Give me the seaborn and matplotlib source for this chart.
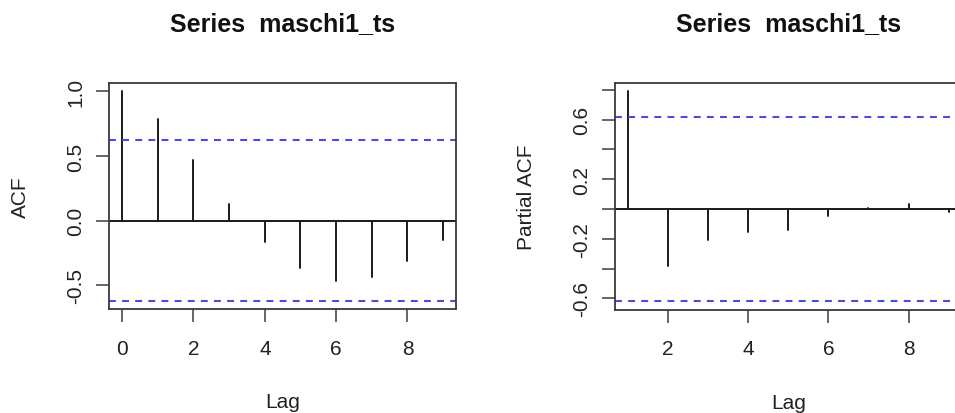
import numpy as np
import pandas as pd
import matplotlib
matplotlib.use("Agg")
import matplotlib.pyplot as plt
import seaborn as sns

# ---- data ----
title_text = "Series  maschi1_ts"
acf_lags = [0, 1, 2, 3, 4, 5, 6, 7, 8, 9]
acf_vals = [1.0, 0.788, 0.466, 0.131, -0.165, -0.371, -0.466, -0.435, -0.311, -0.147]
pacf_lags = [1, 2, 3, 4, 5, 6, 7, 8, 9]
pacf_vals = [0.789, -0.382, -0.211, -0.156, -0.138, -0.044, 0.005, 0.033, -0.018]
n_obs = 10
conf = 1.96 / np.sqrt(n_obs)

acf_xticks = [0, 2, 4, 6, 8]
acf_yticks = [-0.5, 0.0, 0.5, 1.0]
acf_yticklabels = ["-0.5", "0.0", "0.5", "1.0"]
pacf_xticks = [2, 4, 6, 8]
pacf_yticks = [-0.6, -0.4, -0.2, 0.0, 0.2, 0.4, 0.6, 0.8]
pacf_yticklabels = ["-0.6", "", "-0.2", "", "0.2", "", "0.6", ""]

sns.set_theme(style="white")
plt.rcParams['font.family'] = ['Liberation Sans', 'DejaVu Sans']

W, H = 955, 414
fig = plt.figure(figsize=(W / 100, H / 100), dpi=100)

def px_axes(x0, x1, y0, y1):
    return fig.add_axes([x0 / W, 1 - y1 / H, (x1 - x0) / W, (y1 - y0) / H])

ax1 = px_axes(109.3, 456.0, 84.0, 310.0)
ax2 = px_axes(615.0, 961.5, 84.0, 310.7)

def spikes_df(lags, vals):
    rows = []
    for l, v in zip(lags, vals):
        rows.append({"lag": l, "val": 0.0, "id": l})
        rows.append({"lag": l, "val": v, "id": l})
    return pd.DataFrame(rows)

blue = "#4a4ae6"
line_col = "#1a1a1a"
frame_col = "#3a3a3a"

def style_panel(ax, lags, vals, xlim, ylim, xticks, yticks, yticklabels, ylabel, ylab_x):
    df = spikes_df(lags, vals)
    sns.lineplot(data=df, x="lag", y="val", units="id", estimator=None,
                 color=line_col, lw=1.4, ax=ax, legend=False, sort=False)
    ax.axhline(0, color=line_col, lw=1.4, zorder=1)
    for c in (conf, -conf):
        ax.axhline(c, color=blue, lw=1.5, linestyle=(0, (3.3, 3.0)), zorder=2)
    ax.set_xlim(*xlim)
    ax.set_ylim(*ylim)
    ax.set_xticks(xticks)
    ax.set_xticklabels([str(t) for t in xticks])
    ax.set_yticks(yticks)
    ax.set_yticklabels(yticklabels, rotation=90, va="center")
    ax.tick_params(axis="both", which="major", direction="out", length=9.4,
                   width=1.1, color=frame_col, labelsize=15, labelcolor="#222222",
                   bottom=True, left=True, top=False, right=False)
    ax.tick_params(axis="x", pad=12)
    ax.tick_params(axis="y", pad=8)
    for s in ax.spines.values():
        s.set_color(frame_col)
        s.set_linewidth(1.3)
        s.set_visible(True)
    ax.set_xlabel("Lag", fontsize=15, color="#222222")
    ax.xaxis.set_label_coords(0.5, -0.41)
    ax.xaxis.label.set_va("center")
    ax.set_ylabel(ylabel, fontsize=15, color="#222222")
    ax.yaxis.set_label_coords(ylab_x, 0.5)
    ax.yaxis.label.set_va("center")
    ax.set_title(title_text, fontsize=18, fontweight="bold", color="#111111",
                 y=1.265, va="center", pad=0)
    ax.grid(False)

style_panel(ax1, acf_lags, acf_vals, (-0.36, 9.36), (-0.6846, 1.0648),
            acf_xticks, acf_yticks, acf_yticklabels, "ACF", -0.2576)
style_panel(ax2, pacf_lags, pacf_vals, (0.68, 9.32), (-0.676, 0.845),
            pacf_xticks, pacf_yticks, pacf_yticklabels, "Partial ACF", -0.254)

fig.savefig("out.png", dpi=100, facecolor="white")
